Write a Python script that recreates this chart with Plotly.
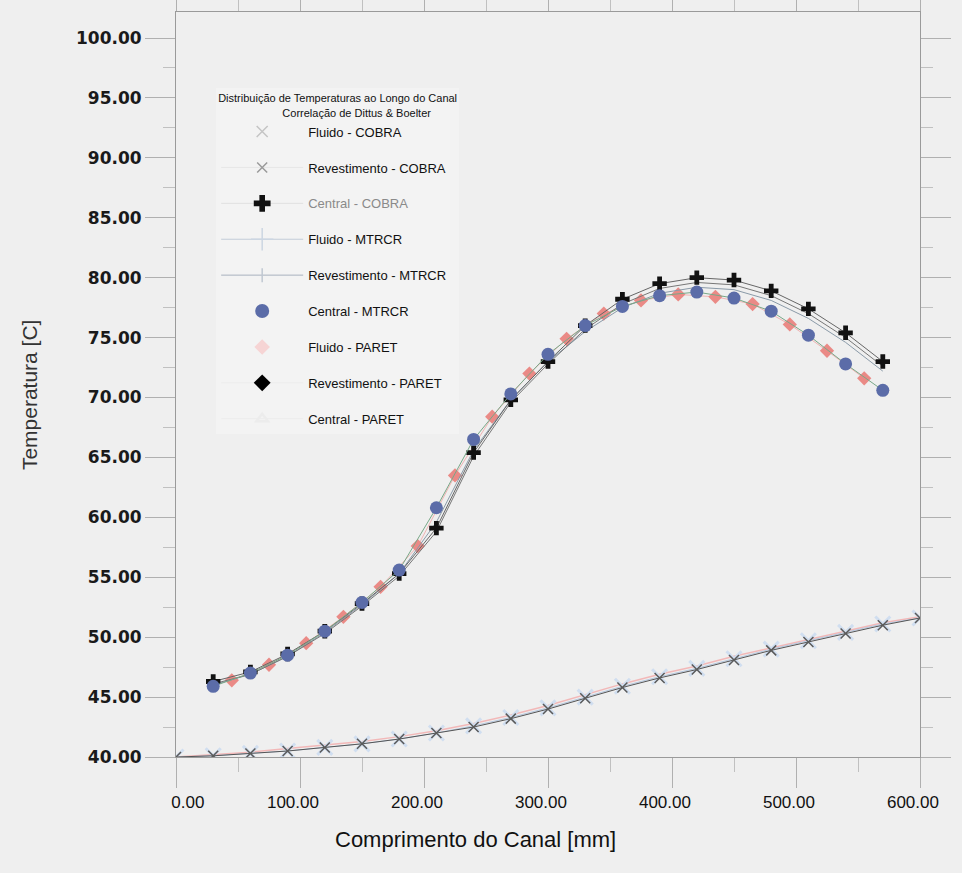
import plotly.graph_objects as go

# ---------------- data ----------------
x_fluid = [0, 30, 60, 90, 120, 150, 180, 210, 240, 270, 300, 330, 360, 390, 420, 450, 480, 510, 540, 570, 600]
t_fluido_cobra = [40.0, 40.1, 40.3, 40.5, 40.8, 41.1, 41.5, 42.0, 42.5, 43.2, 44.0, 44.9, 45.8, 46.6, 47.3, 48.1, 48.9, 49.6, 50.3, 51.0, 51.6]
t_fluido_mtrcr = [40.0, 40.1, 40.3, 40.5, 40.8, 41.1, 41.5, 42.0, 42.6, 43.3, 44.1, 45.0, 45.9, 46.7, 47.4, 48.2, 49.0, 49.7, 50.4, 51.1, 51.6]
t_fluido_paret = [40.0, 40.2, 40.4, 40.7, 41.0, 41.3, 41.7, 42.2, 42.8, 43.5, 44.3, 45.2, 46.1, 46.9, 47.6, 48.4, 49.1, 49.8, 50.5, 51.2, 51.7]

x_core = [30, 60, 90, 120, 150, 180, 210, 240, 270, 300, 330, 360, 390, 420, 450, 480, 510, 540, 570]
t_central_cobra = [46.3, 47.1, 48.6, 50.5, 52.8, 55.3, 59.1, 65.4, 69.8, 73.0, 76.0, 78.2, 79.5, 80.0, 79.8, 78.9, 77.4, 75.4, 73.0]
t_rev_cobra = [46.1, 46.9, 48.4, 50.3, 52.6, 55.1, 58.8, 65.1, 69.6, 72.8, 75.7, 77.8, 79.1, 79.6, 79.4, 78.5, 77.0, 75.0, 72.6]
t_rev_mtrcr = [46.0, 46.9, 48.4, 50.4, 52.7, 55.3, 59.6, 65.6, 69.8, 73.0, 75.5, 77.5, 78.7, 79.2, 79.0, 78.1, 76.6, 74.6, 72.2]
t_central_mtrcr = [45.9, 47.0, 48.5, 50.5, 52.9, 55.6, 60.8, 66.5, 70.3, 73.6, 76.0, 77.6, 78.5, 78.8, 78.3, 77.2, 75.2, 72.8, 70.6]

x_paret = [45, 75, 105, 135, 165, 195, 225, 255, 285, 315, 345, 375, 405, 435, 465, 495, 525, 555]
t_central_paret = [46.4, 47.7, 49.5, 51.7, 54.2, 57.6, 63.5, 68.4, 72.0, 74.9, 77.0, 78.1, 78.6, 78.4, 77.8, 76.1, 73.9, 71.6]

x_ticks = [0, 100, 200, 300, 400, 500, 600]
x_ticktext = ["0.00", "100.00", "200.00", "300.00", "400.00", "500.00", "600.00"]
y_ticks = [40, 45, 50, 55, 60, 65, 70, 75, 80, 85, 90, 95, 100]
y_ticktext = ["40.00", "45.00", "50.00", "55.00", "60.00", "65.00", "70.00", "75.00", "80.00", "85.00", "90.00", "95.00", "100.00"]

legend_names = ["Fluido - COBRA", "Revestimento - COBRA", "Central - COBRA",
                "Fluido - MTRCR", "Revestimento - MTRCR", "Central - MTRCR",
                "Fluido - PARET", "Revestimento - PARET", "Central - PARET"]
legend_title = ["Distribuição de Temperaturas ao Longo do Canal", "Correlação de Dittus & Boelter"]
x_title = "Comprimento do Canal [mm]"
y_title = "Temperatura [C]"

FONT = "Arial, Liberation Sans, sans-serif"
BG = "#efefef"
NB = "\u00a0"

fig = go.Figure()

# ---------- plotted series (lower cluster: fluid) ----------
fig.add_trace(go.Scatter(x=x_fluid, y=t_fluido_paret, mode="lines",
                         line=dict(color="#f2b8b8", width=1.5), showlegend=False, hoverinfo="skip"))
fig.add_trace(go.Scatter(x=x_fluid, y=t_fluido_mtrcr, mode="lines+markers",
                         line=dict(color="#b4c6de", width=1),
                         marker=dict(symbol="x-thin", size=15, line=dict(color="#d0def0", width=3)),
                         showlegend=False, hoverinfo="skip"))
fig.add_trace(go.Scatter(x=x_fluid, y=t_fluido_cobra, mode="lines+markers",
                         line=dict(color="#555555", width=1),
                         marker=dict(symbol="x-thin", size=10, line=dict(color="#5a5a5a", width=1.5)),
                         showlegend=False, hoverinfo="skip"))

# ---------- plotted series (upper cluster) ----------
fig.add_trace(go.Scatter(x=x_paret, y=t_central_paret, mode="lines+markers",
                         line=dict(color="#f0b4b4", width=1),
                         marker=dict(symbol="diamond", size=11, color="#ea8a86"),
                         showlegend=False, hoverinfo="skip"))
fig.add_trace(go.Scatter(x=x_core, y=t_rev_mtrcr, mode="lines",
                         line=dict(color="#8a9aa8", width=1), showlegend=False, hoverinfo="skip"))
fig.add_trace(go.Scatter(x=x_core, y=t_rev_cobra, mode="lines",
                         line=dict(color="#777777", width=1), showlegend=False, hoverinfo="skip"))
fig.add_trace(go.Scatter(x=x_core, y=t_central_cobra, mode="lines+markers",
                         line=dict(color="#666666", width=1),
                         marker=dict(symbol="cross", size=12, color="#111111"),
                         showlegend=False, hoverinfo="skip"))
fig.add_trace(go.Scatter(x=x_core, y=t_central_mtrcr, mode="lines+markers",
                         line=dict(color="#78a888", width=1),
                         marker=dict(symbol="circle", size=13, color="#5b6ca8"),
                         showlegend=False, hoverinfo="skip"))

# ---------- legend entries ----------
leg_styles = [
    dict(mode="markers", marker=dict(symbol="x-thin", size=11, line=dict(color="#c4c4c4", width=1.5))),
    dict(mode="lines+markers", line=dict(color="#e6e6e6", width=1),
         marker=dict(symbol="x-thin", size=10, line=dict(color="#9a9a9a", width=1.5))),
    dict(mode="lines+markers", line=dict(color="#e0e0e0", width=1),
         marker=dict(symbol="cross", size=14, color="#111111")),
    dict(mode="lines+markers", line=dict(color="#c2ccd8", width=1),
         marker=dict(symbol="cross-thin", size=16, line=dict(color="#ccd6e2", width=1.5))),
    dict(mode="lines+markers", line=dict(color="#a8b2be", width=1),
         marker=dict(symbol="line-ns", size=10, line=dict(color="#c0c8d2", width=1.5))),
    dict(mode="markers", marker=dict(symbol="circle", size=14, color="#5b6ca8")),
    dict(mode="markers", marker=dict(symbol="diamond", size=12, color="#f6d4d4")),
    dict(mode="lines+markers", line=dict(color="#ececec", width=1),
         marker=dict(symbol="diamond", size=13, color="#000000")),
    dict(mode="lines+markers", line=dict(color="#ececec", width=1),
         marker=dict(symbol="triangle-up-open", size=10, line=dict(color="#000000", width=2.5))),
]
for i, (name, st) in enumerate(zip(legend_names, leg_styles)):
    label = name
    if name == "Central - COBRA":
        label = "<span style='color:#8a8a8a'>" + name + "</span>"
    fig.add_trace(go.Scatter(x=[None], y=[None], name=label, legendgroup="g%d" % i,
                             showlegend=True, hoverinfo="skip", **st))

# slight label offsets as in the original rendering
x_ticklabels = [(NB * 5 + t) if len(t) < 5 else (t + NB * 3) for t in x_ticktext]

fig.update_layout(
    width=962, height=873,
    margin=dict(l=176, r=42, t=12, b=116),
    paper_bgcolor=BG, plot_bgcolor=BG,
    font=dict(family=FONT, color="#111111"),
    showlegend=True,
    legend=dict(
        x=0.054, y=0.898, xanchor="left", yanchor="top",
        bgcolor="#f3f3f3", borderwidth=0,
        font=dict(size=13, family=FONT, color="#111111"),
        itemwidth=82, tracegroupgap=16,
        title=dict(text=legend_title[0] + "<br>" + NB * 21 + legend_title[1],
                   font=dict(size=11, family=FONT, color="#111111"), side="top"),
    ),
    annotations=[
        dict(text=x_title, xref="paper", yref="paper", x=0.402, y=-0.111,
             xanchor="center", yanchor="middle", showarrow=False,
             font=dict(size=22, family=FONT, color="#111111")),
        dict(text=y_title, xref="paper", yref="paper", x=-0.196, y=0.486,
             xanchor="center", yanchor="middle", showarrow=False, textangle=-90,
             font=dict(size=21, family=FONT, color="#333333")),
    ],
)

fig.update_xaxes(
    range=[0, 600], tickvals=x_ticks, ticktext=x_ticklabels, automargin=False,
    showgrid=False, zeroline=False,
    showline=True, linecolor="#9a9a9a", linewidth=1, mirror="allticks",
    ticks="outside", ticklen=30, tickcolor="#b0b0b0", tickwidth=1,
    minor=dict(dtick=50, ticks="outside", ticklen=14, tickcolor="#c0c0c0", showgrid=False),
    tickfont=dict(size=17, family=FONT, color="#111111"),
)
fig.update_yaxes(
    range=[40, 102.17], tickvals=y_ticks, ticktext=y_ticktext, automargin=False,
    showgrid=False, zeroline=False,
    showline=True, linecolor="#9a9a9a", linewidth=1, mirror="allticks",
    ticks="outside", ticklen=30, tickcolor="#b0b0b0", tickwidth=1,
    minor=dict(dtick=2.5, ticks="outside", ticklen=12, tickcolor="#c0c0c0", showgrid=False),
    tickfont=dict(size=17, family="DejaVu Sans, sans-serif", color="#1a1a1a", weight="bold"),
)

fig.write_html("out.html")
